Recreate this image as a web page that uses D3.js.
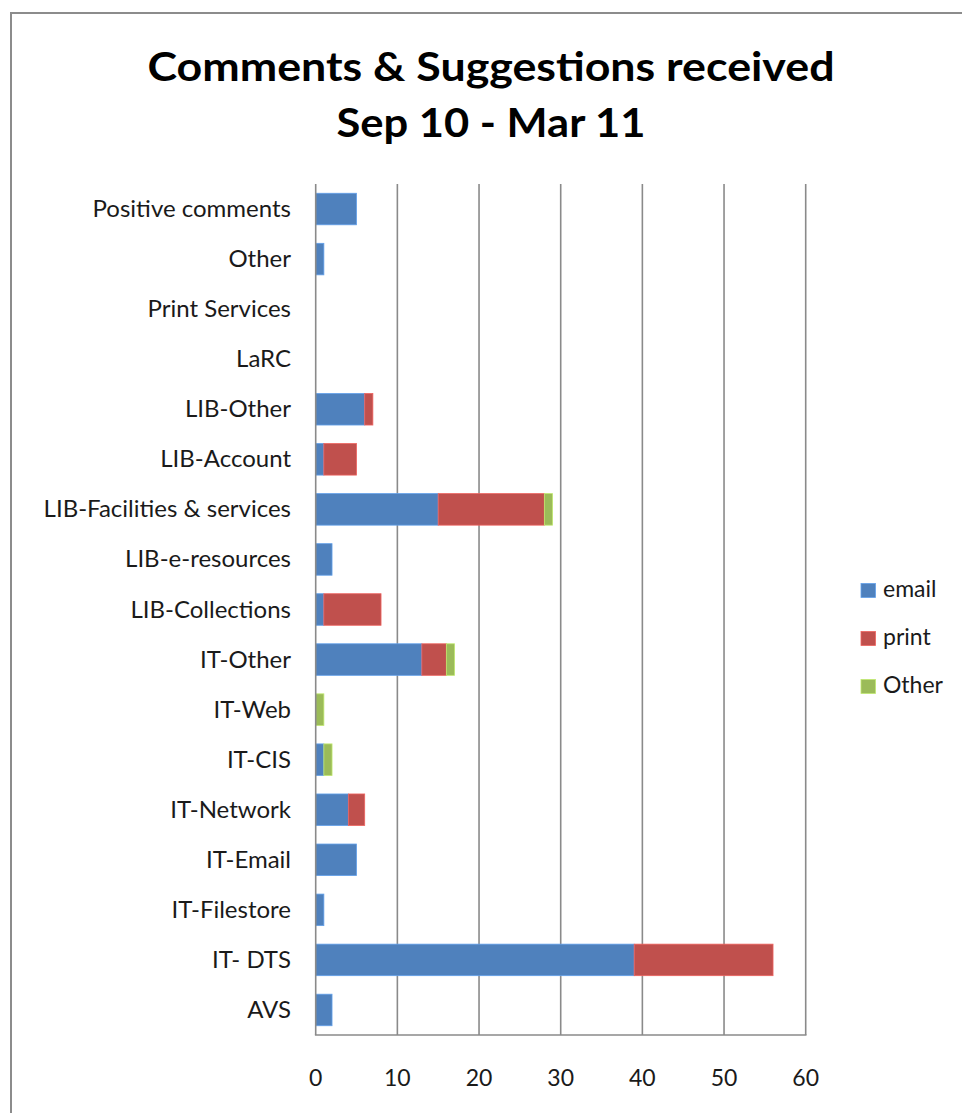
<!DOCTYPE html>
<html><head><meta charset="utf-8">
<script src="https://cdn.jsdelivr.net/npm/d3@7"></script>
<style>html,body{margin:0;padding:0;background:#fff;}svg{display:block;}</style>
</head><body>
<script>
const categories = ["Positive comments","Other","Print Services","LaRC","LIB-Other","LIB-Account","LIB-Facilities & services","LIB-e-resources","LIB-Collections","IT-Other","IT-Web","IT-CIS","IT-Network","IT-Email","IT-Filestore","IT- DTS","AVS"];
const emailValues = [5,1,0,0,6,1,15,2,1,13,0,1,4,5,1,39,2];
const printValues = [0,0,0,0,1,4,13,0,7,3,0,0,2,0,0,17,0];
const otherValues = [0,0,0,0,0,0,1,0,0,1,1,1,0,0,0,0,0];
const seriesNames = ["email","print","Other"];
const seriesColors = ["#4F81BD","#C0504D","#9BBB59"];
const xTicks = [0,10,20,30,40,50,60];
const titleLines = ["Comments & Suggestions received","Sep 10 - Mar 11"];

const W = 962, H = 1113;
const svg = d3.select("body").append("svg").attr("width", W).attr("height", H);
const font = "Lato, 'Open Sans', sans-serif";

// outer frame
svg.append("rect").attr("x", 11).attr("y", 13).attr("width", 1000).attr("height", 1200)
  .attr("fill", "none").attr("stroke", "#8c8c8c").attr("stroke-width", 2);

const x = d3.scaleLinear().domain([0, 60]).range([315.7, 805.7]);
const y = d3.scaleBand().domain(categories).range([184, 1035]).paddingInner(0.37).paddingOuter(0.185);

// gridlines
svg.append("g").selectAll("line").data(xTicks.slice(1)).join("line")
  .attr("x1", d => x(d)).attr("x2", d => x(d)).attr("y1", 184).attr("y2", 1035)
  .attr("stroke", "#8a8a8a").attr("stroke-width", 1.6);

// stacked bars
const rows = categories.map((c, i) => ({cat: c, email: emailValues[i], print: printValues[i], Other: otherValues[i]}));
const stack = d3.stack().keys(seriesNames)(rows);
svg.append("g").selectAll("g").data(stack).join("g")
  .attr("fill", (d, i) => seriesColors[i])
  .attr("stroke", (d, i) => d3.color(seriesColors[i]).brighter(0.6))
  .attr("stroke-width", 0.8)
  .selectAll("rect").data(d => d.filter(s => s[1] - s[0] > 0)).join("rect")
  .attr("x", d => x(d[0])).attr("width", d => x(d[1]) - x(d[0]))
  .attr("y", d => y(d.data.cat)).attr("height", y.bandwidth());

// axis lines
svg.append("line").attr("x1", x(0)).attr("x2", x(0)).attr("y1", 184).attr("y2", 1035)
  .attr("stroke", "#8a8a8a").attr("stroke-width", 1.6);
svg.append("line").attr("x1", x(0) - 0.8).attr("x2", x(60) + 0.8).attr("y1", 1035).attr("y2", 1035)
  .attr("stroke", "#8a8a8a").attr("stroke-width", 1.6);

// x tick labels
svg.append("g").selectAll("text").data(xTicks).join("text")
  .attr("x", d => x(d)).attr("y", 1086).attr("text-anchor", "middle")
  .attr("font-family", font).attr("font-size", 23).attr("fill", "#1a1a1a")
  .text(d => d);

// category labels
svg.append("g").selectAll("text").data(categories).join("text")
  .attr("x", 291).attr("y", d => y(d) + y.bandwidth() / 2 + 8)
  .attr("text-anchor", "end").attr("font-family", font).attr("font-size", 24).attr("fill", "#1a1a1a")
  .text(d => d);

// title
const tWidths = [687, 309];
const tBase = [81, 137];
titleLines.forEach((t, i) => {
  svg.append("text").attr("x", 491).attr("y", tBase[i]).attr("text-anchor", "middle")
    .attr("font-family", font).attr("font-weight", "bold").attr("font-size", 41).attr("fill", "#000")
    .attr("textLength", tWidths[i]).attr("lengthAdjust", "spacingAndGlyphs").text(t);
});

// legend
const leg = svg.append("g").selectAll("g").data(seriesNames).join("g")
  .attr("transform", (d, i) => `translate(861,${583.5 + i * 48})`);
leg.append("rect").attr("width", 14.5).attr("height", 14).attr("fill", (d, i) => seriesColors[i])
  .attr("stroke", (d, i) => d3.color(seriesColors[i]).brighter(0.6)).attr("stroke-width", 0.8);
leg.append("text").attr("x", 22).attr("y", 13.5).attr("font-family", font).attr("font-size", 23)
  .attr("fill", "#1a1a1a").text(d => d);
</script>
</body></html>
